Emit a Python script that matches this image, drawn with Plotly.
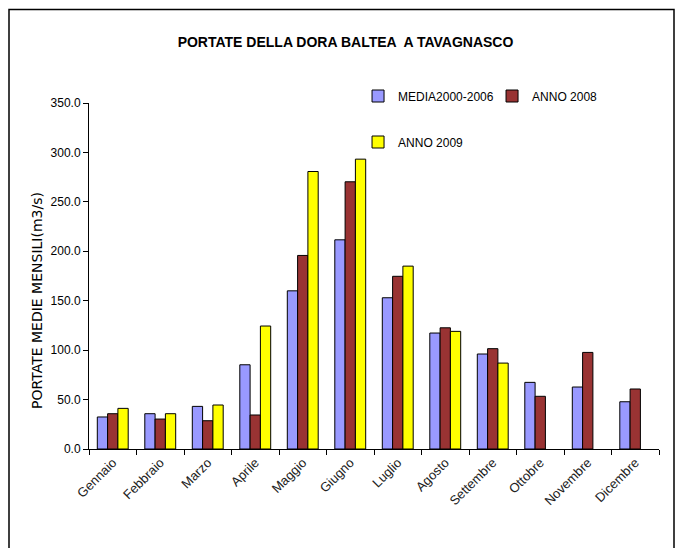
import plotly.graph_objects as go

months = ["Gennaio", "Febbraio", "Marzo", "Aprile", "Maggio", "Giugno",
          "Luglio", "Agosto", "Settembre", "Ottobre", "Novembre", "Dicembre"]
media_2000_2006 = [32.4, 35.7, 43.1, 85.2, 160.0, 211.6, 153.0, 117.3, 96.1, 67.4, 62.7, 47.8]
anno_2008 = [35.7, 30.3, 28.6, 34.4, 195.8, 270.3, 174.7, 122.6, 101.5, 53.3, 97.7, 60.7]
anno_2009 = [41.1, 35.7, 44.5, 124.4, 280.7, 293.2, 185.0, 119.0, 86.9, None, None, None]

SANS = "Liberation Sans, Arial, sans-serif"

fig = go.Figure()
fig.add_trace(go.Bar(x=months, y=media_2000_2006, name="MEDIA2000-2006",
                     marker=dict(color="#9999FF", line=dict(color="black", width=1)),
                     legend="legend"))
fig.add_trace(go.Bar(x=months, y=anno_2008, name="ANNO 2008",
                     marker=dict(color="#993333", line=dict(color="black", width=1)),
                     legend="legend"))
fig.add_trace(go.Bar(x=months, y=anno_2009, name="ANNO 2009",
                     marker=dict(color="#FFFF00", line=dict(color="black", width=1)),
                     legend="legend2"))

# page body has an 8px margin, so the figure is 675x540 and offset by 8px
fig.update_layout(
    width=675, height=540,
    margin=dict(l=81, r=24, t=95, b=99, autoexpand=False),
    paper_bgcolor="white", plot_bgcolor="white",
    barmode="group", bargap=0.35, bargroupgap=0,
    title=dict(text="<b>PORTATE DELLA DORA BALTEA  A TAVAGNASCO</b>",
               x=0.5, xanchor="center", y=1 - 34 / 540, yanchor="middle",
               font=dict(family=SANS, size=14, color="black")),
    showlegend=True,
    legend=dict(orientation="h", x=0.472, xanchor="left", y=(449 - 96) / 346, yanchor="middle",
                entrywidth=89, entrywidthmode="pixels",
                font=dict(family=SANS, size=12, color="black"),
                bgcolor="rgba(0,0,0,0)", traceorder="normal"),
    legend2=dict(orientation="h", x=0.472, xanchor="left", y=(449 - 142) / 346, yanchor="middle",
                 font=dict(family=SANS, size=12, color="black"),
                 bgcolor="rgba(0,0,0,0)"),
    xaxis=dict(showline=True, linecolor="black", linewidth=1,
               ticks="outside", ticklen=5, tickcolor="black", tickson="boundaries",
               tickangle=-45, showgrid=False,
               tickfont=dict(family=SANS, size=13, color="#222222")),
    yaxis=dict(range=[0, 350], dtick=50, tickformat=".1f",
               showline=True, linecolor="black", linewidth=1,
               ticks="outside", ticklen=5, tickcolor="black",
               showgrid=False, zeroline=False,
               tickfont=dict(family=SANS, size=12, color="black")),
    annotations=[dict(text="PORTATE MEDIE MENSILI(m3/s)", textangle=-90,
                      xref="paper", yref="paper",
                      x=(37 - 89) / 570, y=(449 - 301) / 346,
                      xanchor="center", yanchor="middle", showarrow=False,
                      font=dict(family="DejaVu Sans, sans-serif", size=14, color="black"))],
    shapes=[dict(type="rect", xref="paper", yref="paper",
                 x0=(9 - 89) / 570, x1=(674 - 89) / 570,
                 y0=(449 - 570) / 346, y1=(449 - 9.5) / 346,
                 line=dict(color="black", width=1.5), fillcolor="rgba(0,0,0,0)",
                 layer="below")],
)

fig.write_html("out.html")
